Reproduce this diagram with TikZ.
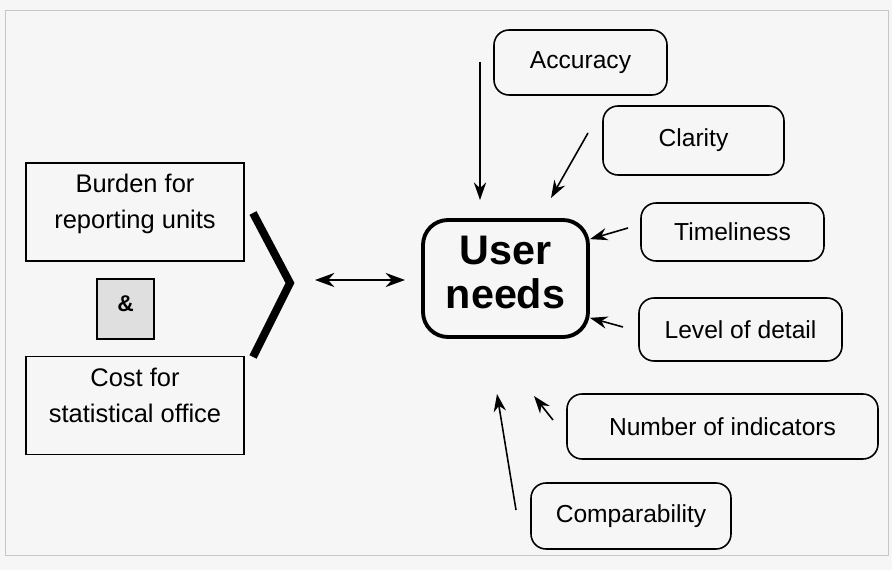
\documentclass[tikz,border=0pt]{standalone}
\usepackage{fontspec}
\setmainfont{Liberation Sans}
\usetikzlibrary{arrows.meta}

\begin{document}
\begin{tikzpicture}[
    >={Stealth[length=10pt,width=7pt]},
    factor/.style={draw,rounded corners=0.3cm,line width=0.9pt,font=\fontsize{14}{16}\selectfont,align=center},
    cost/.style={draw,line width=0.9pt,font=\fontsize{14.5}{20.5}\selectfont,align=center,text depth=12pt,minimum width=4.36cm,minimum height=1.96cm},
    inner sep=0.2em]
    % page and frame
    \fill[gray!7] (0,0) rectangle (17.84,11.4);
    \draw[gray!45,line width=0.4pt] (0.1,0.3) rectangle (17.76,11.2);

    % left side: burden and cost
    \node(B) at (2.70,7.16)[cost]{Burden for\\reporting units};
    \node(A) at (2.51,5.22)[draw,fill=gray!25,line width=0.9pt,minimum width=1.14cm,minimum height=1.2cm,text depth=6pt,font=\fontsize{13}{15}\selectfont\bfseries]{\&};
    \node(C) at (2.70,3.29)[cost]{Cost for\\statistical office};
    \coordinate (K1) at (5.06,7.14);
    \coordinate (K2) at (5.80,5.74);
    \coordinate (K3) at (5.06,4.26);
    \draw [line width=4.5pt] (K1) -- (K2) -- (K3);

    % centre
    \node(U) at (10.11,5.83)[draw,rounded corners=0.5cm,line width=2.2pt,minimum width=3.3cm,minimum height=2.34cm,align=center,text depth=7pt,font=\fontsize{23.5}{25.5}\selectfont\bfseries]{User\\needs};
    \coordinate (L) at (6.30,5.80);
    \coordinate (R) at (8.10,5.80);
    \draw [<->,line width=1.4pt,>={Stealth[length=11pt,width=8pt]}] (L) -- (R);

    % quality factors
    \node(F1) at (11.61,10.15)[factor,minimum width=3.46cm,minimum height=1.30cm]{Accuracy};
    \node(F2) at (13.87,8.59)[factor,minimum width=3.62cm,minimum height=1.38cm]{Clarity};
    \node(F3) at (14.65,6.76)[factor,minimum width=3.66cm,minimum height=1.16cm]{Timeliness};
    \node(F4) at (14.81,4.81)[factor,minimum width=4.06cm,minimum height=1.26cm]{Level of detail};
    \node(F5) at (14.45,2.87)[factor,minimum width=6.22cm,minimum height=1.30cm]{Number of indicators};
    \node(F6) at (12.62,1.08)[factor,minimum width=4.00cm,minimum height=1.32cm]{Comparability};

    \coordinate (T1) at (9.60,10.16);
    \coordinate (H1) at (9.60,7.40);
    \coordinate (T2) at (11.76,8.74);
    \coordinate (H2) at (11.02,7.44);
    \coordinate (T3) at (12.56,6.84);
    \coordinate (T4) at (12.46,4.86);
    \coordinate (T5) at (11.06,3.00);
    \coordinate (H5) at (10.68,3.48);
    \coordinate (T6) at (10.32,1.20);
    \coordinate (H6) at (9.94,3.52);

    \draw [->,line width=0.9pt] (T1) to (H1);
    \draw [->,line width=0.9pt] (T2) to (H2);
    \draw [->,line width=0.9pt] (T3) to (U.25);
    \draw [->,line width=0.9pt] (T4) to (U.-25);
    \draw [->,line width=0.9pt] (T5) to (H5);
    \draw [->,line width=0.9pt] (T6) to (H6);
\end{tikzpicture}
\end{document}
